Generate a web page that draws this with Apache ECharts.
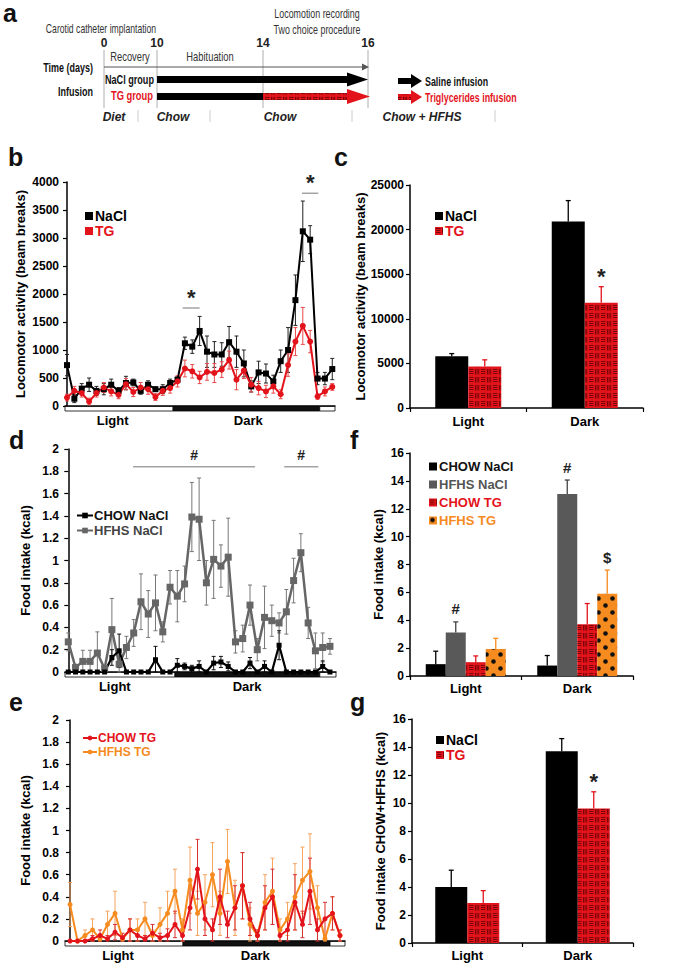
<!DOCTYPE html>
<html>
<head>
<meta charset="utf-8">
<script src="https://cdn.jsdelivr.net/npm/echarts/dist/echarts.min.js"></script>
<style>
html, body { margin: 0; background: #fff; }
#main { width: 698px; height: 968px; }
</style>
</head>
<body>
<div id="main"></div>
<script>
// ---- data ----
// a: protocol timeline (days)
var timelineDays = ['0', '10', '14', '16'];

// b: locomotor activity per time bin (beam breaks), mean and sem
var locoNaCl    = [730,130,310,380,270,300,380,270,410,420,270,380,300,300,410,470,1120,1060,1340,970,920,920,1140,970,760,350,600,580,440,800,1000,1890,3120,2970,490,490,660];
var locoNaClErr = [190,70,90,120,80,100,100,60,120,60,60,70,40,80,70,50,110,120,260,280,230,210,280,280,240,100,200,170,110,200,400,450,540,250,110,110,190];
var locoTG      = [150,270,230,80,230,330,260,200,390,250,330,300,160,270,320,440,670,620,510,610,590,650,820,470,630,380,320,260,350,210,730,1150,1430,1150,170,260,340];
var locoTGErr   = [60,80,70,60,70,90,80,70,100,80,90,90,60,80,90,100,150,120,110,150,170,140,160,180,140,130,120,110,120,80,200,250,330,200,50,80,60];
var locoSig     = [[15.7, 18.0, 1750], [31.9, 34.1, 3800]];
var locoSigMark = ['*', '*'];

// c: total activity
var periods = ['Light', 'Dark'];
var locoTotNaCl = [5800, 20900];
var locoTotNaClErr = [300, 2350];
var locoTotTG = [4650, 11800];
var locoTotTGErr = [750, 1800];

// d: food intake, NaCl groups (kcal)
var chowNaCl    = [0,0,0,0,0,0,0.13,0.19,0,0,0,0,0.11,0,0,0.06,0.05,0.03,0.05,0,0.08,0.09,0.05,0,0,0.08,0,0.05,0,0.24,0,0,0,0,0,0.05,0];
var chowNaClErr = [0,0,0,0,0,0,0.07,0.15,0,0,0,0,0.12,0,0,0.06,0.03,0.03,0.05,0,0.06,0.05,0.04,0,0,0.05,0,0.05,0,0.13,0,0,0,0,0,0.05,0];
var hfhsNaCl    = [0.27,0.04,0.095,0.095,0.17,0.03,0.38,0.07,0.22,0.35,0.63,0.52,0.62,0.36,0.76,0.68,0.79,1.39,1.37,0.8,1.01,0.95,1.03,0.27,0.3,0.6,0.2,0.49,0.46,0.44,0.54,0.82,1.07,0.44,0.19,0.22,0.23];
var hfhsNaClErr = [0.08,0.03,0.1,0.1,0.19,0.02,0.28,0.13,0.1,0.12,0.25,0.21,0.25,0.09,0.15,0.23,0.16,0.31,0.37,0.2,0.35,0.19,0.35,0.1,0.12,0.18,0.1,0.28,0.14,0.09,0.2,0.2,0.17,0.14,0.16,0.13,0.07];
var intakeSig     = [[8.9, 25.7, 1.84], [29.7, 34.4, 1.84]];
var intakeSigMark = ['#', '#'];

// e: food intake, TG groups (kcal)
var chowTG    = [0,0,0,0.02,0.05,0.02,0.08,0.03,0.1,0.05,0.02,0.07,0.03,0.05,0.15,0.05,0.3,0.65,0.2,0.1,0.4,0.15,0.3,0.5,0.2,0.05,0.3,0.4,0.05,0.1,0.35,0.15,0.45,0.1,0.2,0.25,0.05];
var chowTGErr = [0,0,0,0.03,0.05,0.03,0.07,0.04,0.1,0.06,0.03,0.08,0.04,0.06,0.12,0.06,0.2,0.27,0.15,0.1,0.25,0.12,0.2,0.3,0.15,0.05,0.2,0.25,0.06,0.1,0.25,0.12,0.3,0.1,0.15,0.15,0.05];
var hfhsTG    = [0.33,0,0.05,0.1,0.02,0.15,0.25,0.02,0.1,0.1,0.2,0.05,0.15,0.25,0.45,0.1,0.55,0.25,0.35,0.6,0.25,0.72,0.3,0.5,0.15,0.05,0.35,0.45,0.1,0.2,0.4,0.55,0.63,0.3,0.02,0.25,0.05];
var hfhsTGErr = [0.2,0,0.05,0.1,0.02,0.12,0.2,0.02,0.1,0.1,0.15,0.05,0.15,0.2,0.2,0.1,0.3,0.2,0.25,0.29,0.2,0.29,0.25,0.3,0.15,0.05,0.25,0.3,0.1,0.15,0.3,0.3,0.34,0.2,0.02,0.15,0.05];

// f: total intake per diet / group
var totChowNaCl = [0.85, 0.75],  totChowNaClErr = [0.93, 0.72];
var totHfhsNaCl = [3.12, 13.06], totHfhsNaClErr = [0.76, 1.0];
var totChowTG   = [0.99, 3.72],  totChowTGErr   = [0.45, 1.48];
var totHfhsTG   = [1.94, 5.9],   totHfhsTGErr   = [0.76, 1.7];
var fMarksHfhsNaCl = ['#', '#'];
var fMarksHfhsTG   = ['', '$'];

// g: chow + hfhs intake
var sumNaCl = [4.0, 13.7], sumNaClErr = [1.2, 0.9];
var sumTG   = [2.86, 9.6], sumTGErr   = [0.88, 1.2];
var gMarksTG = ['', '*'];

// light / dark strips (time-bin units) and label positions
var stripB = [-0.27, 14.4, 34.3, 36.37], stripLabB = [6.2, 24.6];
var stripD = [-0.45, 14.68, 34.6, 36.83], stripLabD = [6.4, 24.6];
var stripE = [-0.67, 15.07, 34.67, 36.67], stripLabE = [6.4, 24.7];

// ---- styles ----
var FONT = 'Liberation Sans, Arial, sans-serif';
var RED = '#e3131b', ORANGE = '#f68b1f', GRAY = '#666666';

function redPattern() {
  var c = document.createElement('canvas'); c.width = 12; c.height = 8;
  var g = c.getContext('2d');
  g.fillStyle = RED; g.fillRect(0, 0, 12, 8);
  g.strokeStyle = 'rgba(80,0,0,0.7)'; g.lineWidth = 1;
  for (var k = 0; k < 3; k++) {
    g.beginPath(); g.moveTo(1, 1.5 + k * 2); g.lineTo(5.5, 1.5 + k * 2); g.stroke();
    g.beginPath(); g.moveTo(7.5 + k * 1.6, 1); g.lineTo(7.5 + k * 1.6, 6.5); g.stroke();
  }
  return c;
}
function dotPattern() {
  var c = document.createElement('canvas'); c.width = 14; c.height = 14;
  var g = c.getContext('2d');
  g.fillStyle = ORANGE; g.fillRect(0, 0, 14, 14);
  g.fillStyle = '#111';
  g.beginPath(); g.arc(3.5, 3.5, 2.3, 0, Math.PI * 2); g.fill();
  g.beginPath(); g.arc(10.5, 10.5, 2.3, 0, Math.PI * 2); g.fill();
  return c;
}
var redFill = {image: redPattern(), repeat: 'repeat'};
var dotFill = {image: dotPattern(), repeat: 'repeat'};

var axisLineStyle = {show: true, lineStyle: {color: '#000', width: 1.5}};
var tickStyle = {show: true, length: 4, lineStyle: {color: '#000', width: 1.2}};
function yAx(idx, max, interval, name, gap, nameSize) {
  return {type: 'value', gridIndex: idx, min: 0, max: max, interval: interval,
    name: name, nameLocation: 'middle', nameGap: gap, nameRotate: 90,
    nameTextStyle: {fontFamily: FONT, fontWeight: 'bold', fontSize: nameSize, color: '#000'},
    axisLine: axisLineStyle, axisTick: tickStyle, splitLine: {show: false},
    axisLabel: {fontFamily: FONT, fontWeight: 'bold', fontSize: 12, color: '#000', margin: 6,
      formatter: function (v) { return String(Math.round(v * 1000) / 1000); }}};
}
function xLineAx(idx, bounds) {
  return {type: 'value', gridIndex: idx, min: bounds[0], max: bounds[bounds.length - 1],
    axisLine: axisLineStyle, axisTick: {show: false}, axisLabel: {show: false}, splitLine: {show: false}};
}
function xCatAx(idx, margin) {
  return {type: 'category', gridIndex: idx, data: periods,
    axisLine: axisLineStyle, axisTick: tickStyle, splitLine: {show: false},
    axisLabel: {fontFamily: FONT, fontWeight: 'bold', fontSize: 13, color: '#000', margin: margin}};
}

function stripSeries(idx, bounds, labPos) {
  var data = [];
  for (var i = 0; i < bounds.length - 1; i++) data.push([bounds[i], bounds[i + 1], i % 2]);
  return [{
    type: 'custom', xAxisIndex: idx, yAxisIndex: idx, clip: false, silent: true, encode: {x: [0, 1]},
    data: data,
    renderItem: function (params, api) {
      var p0 = api.coord([api.value(0), 0]), p1 = api.coord([api.value(1), 0]);
      return {type: 'rect', shape: {x: p0[0], y: p0[1] + 0.5, width: p1[0] - p0[0], height: 4.5},
        style: {fill: api.value(2) === 1 ? '#111' : '#fff', stroke: '#000', lineWidth: 0.8}};
    }
  }, {
    type: 'custom', xAxisIndex: idx, yAxisIndex: idx, clip: false, silent: true, encode: {x: 0},
    data: labPos.map(function (x) { return [x]; }),
    renderItem: function (params, api) {
      var p = api.coord([api.value(0), 0]);
      return {type: 'text', style: {text: periods[params.dataIndex], x: p[0], y: p[1] + 14,
        textAlign: 'center', textVerticalAlign: 'middle', font: 'bold 13px ' + FONT, fill: '#000'}};
    }
  }];
}
function lineErrSeries(idx, vals, errs, color) {
  return {type: 'custom', xAxisIndex: idx, yAxisIndex: idx, clip: false, silent: true, encode: {x: 0, y: 1},
    data: vals.map(function (v, i) { return [i, v, errs[i]]; }),
    renderItem: function (params, api) {
      var e = api.value(2);
      if (!e) return {type: 'group', children: []};
      var hi = api.coord([api.value(0), api.value(1) + e]);
      var lo = api.coord([api.value(0), Math.max(0, api.value(1) - e)]);
      var s = {stroke: color, lineWidth: 1};
      return {type: 'group', children: [
        {type: 'line', shape: {x1: hi[0], y1: hi[1], x2: lo[0], y2: lo[1]}, style: s},
        {type: 'line', shape: {x1: hi[0] - 2, y1: hi[1], x2: hi[0] + 2, y2: hi[1]}, style: s},
        {type: 'line', shape: {x1: lo[0] - 2, y1: lo[1], x2: lo[0] + 2, y2: lo[1]}, style: s}
      ]};
    }};
}
function lineSeries(idx, name, vals, color, symbol, size, width) {
  return {type: 'line', name: name, xAxisIndex: idx, yAxisIndex: idx,
    data: vals.map(function (v, i) { return [i, v]; }),
    symbol: symbol, symbolSize: size, showSymbol: true,
    lineStyle: {color: color, width: width}, itemStyle: {color: color}, z: 3};
}
function sigSeries(idx, spans, marks, size, lift) {
  return {type: 'custom', xAxisIndex: idx, yAxisIndex: idx, clip: false, silent: true, encode: {x: [0, 1], y: 2},
    data: spans,
    renderItem: function (params, api) {
      var a = api.coord([api.value(0), api.value(2)]), b = api.coord([api.value(1), api.value(2)]);
      return {type: 'group', children: [
        {type: 'line', shape: {x1: a[0], y1: a[1], x2: b[0], y2: b[1]}, style: {stroke: '#777', lineWidth: 1}},
        {type: 'text', style: {text: marks[params.dataIndex], x: (a[0] + b[0]) / 2, y: a[1] - lift,
          textAlign: 'center', textVerticalAlign: 'middle', font: 'bold ' + size + 'px ' + FONT, fill: '#222'}}
      ]};
    }};
}
function barSeries(idx, name, vals, fill, width) {
  return {type: 'bar', name: name, xAxisIndex: idx, yAxisIndex: idx, data: vals,
    barWidth: width, barGap: '0%', itemStyle: {color: fill}};
}
function barErrSeries(idx, vals, errs, color, offset, marks, markSize, lift) {
  return {type: 'custom', xAxisIndex: idx, yAxisIndex: idx, clip: false, silent: true, z: 5, encode: {x: 0, y: 1},
    data: vals.map(function (v, i) { return [i, v, errs[i]]; }),
    renderItem: function (params, api) {
      var c = api.coord([api.value(0), api.value(1)]);
      var t = api.coord([api.value(0), api.value(1) + api.value(2)]);
      var x = c[0] + offset;
      var s = {stroke: color, lineWidth: 1.3};
      var kids = [
        {type: 'line', shape: {x1: x, y1: c[1], x2: x, y2: t[1]}, style: s},
        {type: 'line', shape: {x1: x - 2.5, y1: t[1], x2: x + 2.5, y2: t[1]}, style: s}
      ];
      var m = marks && marks[params.dataIndex];
      if (m) kids.push({type: 'text', style: {text: m, x: x, y: t[1] - lift, textAlign: 'center',
        textVerticalAlign: 'middle', font: 'bold ' + markSize + 'px ' + FONT, fill: '#222'}});
      return {type: 'group', children: kids};
    }};
}
function legend(left, top, names, colors, opts) {
  return Object.assign({
    orient: 'vertical', left: left, top: top, itemGap: 2, selectedMode: false,
    formatter: function (n) { return n.slice(2); },
    data: names.map(function (n, i) { return {name: n, textStyle: {color: colors[i]}}; }),
    textStyle: {fontFamily: FONT, fontWeight: 'bold', fontSize: 14, padding: [0, 0, 0, -3]}
  }, opts);
}

// ---- panel a (schematic) ----
var graphics = [];
function txt(text, x, y, font, fill, align, sx) {
  graphics.push({type: 'text', x: x, y: y, scaleX: sx || 1, silent: true,
    style: {text: text, x: 0, y: 0, font: font, fill: fill || '#222', textAlign: align || 'center', textVerticalAlign: 'middle'}});
}
var dayX = [104, 157, 263, 368];
var cond = '12px ' + FONT, condB = 'bold 12px ' + FONT;
txt('Locomotion recording', 317, 13, cond, '#333', 'center', 0.74);
txt('Two choice procedure', 317, 29, cond, '#333', 'center', 0.74);
txt('Carotid catheter implantation', 101, 29, cond, '#333', 'center', 0.72);
timelineDays.forEach(function (d, i) {
  txt(d, dayX[i], 43, 'bold 12px ' + FONT, '#222');
  graphics.push({type: 'line', silent: true, shape: {x1: dayX[i], y1: 50, x2: dayX[i], y2: 108},
    style: {stroke: '#999', lineWidth: 0.8}});
});
txt('Recovery', 130, 57, cond, '#333', 'center', 0.78);
txt('Habituation', 210, 57, cond, '#333', 'center', 0.78);
txt('Time (days)', 93, 67, condB, '#111', 'right', 0.75);
txt('NaCl group', 154, 79, condB, '#111', 'right', 0.76);
txt('Infusion', 93, 91, condB, '#111', 'right', 0.75);
txt('TG group', 153, 96, condB, RED, 'right', 0.78);
graphics.push(
  {type: 'line', silent: true, shape: {x1: 104, y1: 67, x2: 363, y2: 67}, style: {stroke: '#555', lineWidth: 1.2}},
  {type: 'polygon', silent: true, shape: {points: [[362, 63.5], [369, 67], [362, 70.5]]}, style: {fill: '#555'}},
  {type: 'rect', silent: true, shape: {x: 157, y: 76, width: 191, height: 7}, style: {fill: '#000'}},
  {type: 'polygon', silent: true, shape: {points: [[347, 72.5], [368, 79.5], [347, 86.5]]}, style: {fill: '#000'}},
  {type: 'rect', silent: true, shape: {x: 157, y: 93, width: 106, height: 7}, style: {fill: '#000'}},
  {type: 'rect', silent: true, shape: {x: 263, y: 93, width: 85, height: 7}, style: {fill: redFill}},
  {type: 'polygon', silent: true, shape: {points: [[347, 89], [370, 96.5], [347, 104]]}, style: {fill: RED}},
  {type: 'rect', silent: true, shape: {x: 398, y: 78, width: 14, height: 6}, style: {fill: '#000'}},
  {type: 'polygon', silent: true, shape: {points: [[411, 74], [422, 81], [411, 88]]}, style: {fill: '#000'}},
  {type: 'rect', silent: true, shape: {x: 398, y: 94, width: 14, height: 6}, style: {fill: redFill}},
  {type: 'polygon', silent: true, shape: {points: [[411, 90], [422, 97], [411, 104]]}, style: {fill: RED}}
);
txt('Saline infusion', 425, 81, condB, '#111', 'left', 0.74);
txt('Triglycerides infusion', 425, 97, condB, RED, 'left', 0.74);
var bi = 'italic bold 12px ' + FONT;
txt('Diet', 114, 117, bi, '#222');
txt('Chow', 173, 117, bi, '#222');
txt('Chow', 280, 117, bi, '#222');
txt('Chow + HFHS', 422, 117, bi, '#222');
[138, 210, 352, 495].forEach(function (x) {
  graphics.push({type: 'line', silent: true, shape: {x1: x, y1: 110, x2: x, y2: 122}, style: {stroke: '#ccc', lineWidth: 1}});
});
// panel letters
[['a', 3, 13], ['b', 8, 157], ['c', 334, 157], ['d', 9, 440], ['f', 350, 440], ['e', 9, 702], ['g', 350, 702]]
  .forEach(function (p) { txt(p[0], p[1], p[2], 'bold 25px ' + FONT, '#111', 'left'); });

// ---- chart ----
var chart = echarts.init(document.getElementById('main'), null, {renderer: 'svg', width: 698, height: 968});
var series = [];
// b (grid 0)
series = series.concat(stripSeries(0, stripB, stripLabB));
series.push(lineErrSeries(0, locoNaCl, locoNaClErr, '#222'), lineErrSeries(0, locoTG, locoTGErr, '#ea4a4a'));
series.push(lineSeries(0, 'b:NaCl', locoNaCl, '#000', 'rect', 6, 2), lineSeries(0, 'b:TG', locoTG, RED, 'circle', 6, 2));
series.push(sigSeries(0, locoSig, locoSigMark, 22, 11));
// c (grid 1)
series.push(barSeries(1, 'c:NaCl', locoTotNaCl, '#000', 33), barSeries(1, 'c:TG', locoTotTG, redFill, 33));
series.push(barErrSeries(1, locoTotNaCl, locoTotNaClErr, '#000', -16.5), barErrSeries(1, locoTotTG, locoTotTGErr, RED, 16.5, ['', '*'], 22, 10));
// d (grid 2)
series = series.concat(stripSeries(2, stripD, stripLabD));
series.push(lineErrSeries(2, hfhsNaCl, hfhsNaClErr, '#777'), lineErrSeries(2, chowNaCl, chowNaClErr, '#111'));
series.push(lineSeries(2, 'd:HFHS NaCl', hfhsNaCl, GRAY, 'rect', 7, 2.5), lineSeries(2, 'd:CHOW NaCl', chowNaCl, '#000', 'rect', 5, 2.2));
series.push(sigSeries(2, intakeSig, intakeSigMark, 14, 12));
// f (grid 3)
series.push(barSeries(3, 'f:CHOW NaCl', totChowNaCl, '#000', 20), barSeries(3, 'f:HFHS NaCl', totHfhsNaCl, '#595959', 20),
  barSeries(3, 'f:CHOW TG', totChowTG, redFill, 20), barSeries(3, 'f:HFHS TG', totHfhsTG, dotFill, 20));
series.push(barErrSeries(3, totChowNaCl, totChowNaClErr, '#000', -30),
  barErrSeries(3, totHfhsNaCl, totHfhsNaClErr, '#444', -10, fMarksHfhsNaCl, 15, 13),
  barErrSeries(3, totChowTG, totChowTGErr, RED, 10),
  barErrSeries(3, totHfhsTG, totHfhsTGErr, ORANGE, 30, fMarksHfhsTG, 15, 13));
// e (grid 4)
series = series.concat(stripSeries(4, stripE, stripLabE));
series.push(lineErrSeries(4, hfhsTG, hfhsTGErr, '#f7a35c'), lineErrSeries(4, chowTG, chowTGErr, '#d93030'));
series.push(lineSeries(4, 'e:HFHS TG', hfhsTG, ORANGE, 'circle', 5, 2), lineSeries(4, 'e:CHOW TG', chowTG, RED, 'circle', 5, 2));
// g (grid 5)
series.push(barSeries(5, 'g:NaCl', sumNaCl, '#000', 32), barSeries(5, 'g:TG', sumTG, redFill, 32));
series.push(barErrSeries(5, sumNaCl, sumNaClErr, '#000', -16), barErrSeries(5, sumTG, sumTGErr, RED, 16, gMarksTG, 22, 10));

var option = {
  animation: false,
  backgroundColor: '#fff',
  textStyle: {fontFamily: FONT},
  graphic: graphics,
  grid: [
    {left: 65, top: 182, width: 270, height: 224, outerBoundsMode: 'none'},
    {left: 410, top: 185, width: 233, height: 223, outerBoundsMode: 'none'},
    {left: 65, top: 449, width: 271, height: 223, outerBoundsMode: 'none'},
    {left: 410, top: 453, width: 223, height: 223, outerBoundsMode: 'none'},
    {left: 65, top: 720, width: 280, height: 221, outerBoundsMode: 'none'},
    {left: 412, top: 719, width: 221, height: 224, outerBoundsMode: 'none'}
  ],
  xAxis: [xLineAx(0, stripB), xCatAx(1, 7), xLineAx(2, stripD), xCatAx(3, 6), xLineAx(4, stripE), xCatAx(5, 6)],
  yAxis: [
    yAx(0, 4000, 500, 'Locomotor activity (beam breaks)', 38, 13),
    yAx(1, 25000, 5000, 'Locomotor activity (beam breaks)', 39, 13),
    yAx(2, 2, 0.2, 'Food intake (kcal)', 33, 13),
    yAx(3, 16, 2, 'Food intake (kcal)', 25, 13),
    yAx(4, 2, 0.2, 'Food intake (kcal)', 33, 13),
    yAx(5, 16, 2, 'Food intake CHOW+HFHS (kcal)', 25, 13)
  ],
  legend: [
    legend(80, 204, ['b:NaCl', 'b:TG'], ['#000', RED], {icon: 'rect', itemWidth: 8, itemHeight: 8, itemGap: 1}),
    legend(430, 204, ['c:NaCl', 'c:TG'], ['#000', RED], {icon: 'rect', itemWidth: 8, itemHeight: 8, itemGap: 1}),
    legend(71, 504, ['d:CHOW NaCl', 'd:HFHS NaCl'], ['#111', '#444'], {itemWidth: 16, itemHeight: 7, itemGap: 2,
      textStyle: {fontFamily: FONT, fontWeight: 'bold', fontSize: 13, padding: [0, 0, 0, -4]}}),
    legend(424, 455, ['f:CHOW NaCl', 'f:HFHS NaCl', 'f:CHOW TG', 'f:HFHS TG'], ['#111', '#555', RED, ORANGE],
      {icon: 'rect', itemWidth: 8, itemHeight: 8, itemGap: 5,
      textStyle: {fontFamily: FONT, fontWeight: 'bold', fontSize: 13, padding: [0, 0, 0, -3]}}),
    legend(77, 727, ['e:CHOW TG', 'e:HFHS TG'], [RED, ORANGE], {itemWidth: 14, itemHeight: 6, itemGap: 2,
      textStyle: {fontFamily: FONT, fontWeight: 'bold', fontSize: 12, padding: [0, 0, 0, -4]}}),
    legend(431, 728, ['g:NaCl', 'g:TG'], ['#000', RED], {icon: 'rect', itemWidth: 8, itemHeight: 8, itemGap: 1})
  ],
  series: series
};
chart.setOption(option);
</script>
</body>
</html>
